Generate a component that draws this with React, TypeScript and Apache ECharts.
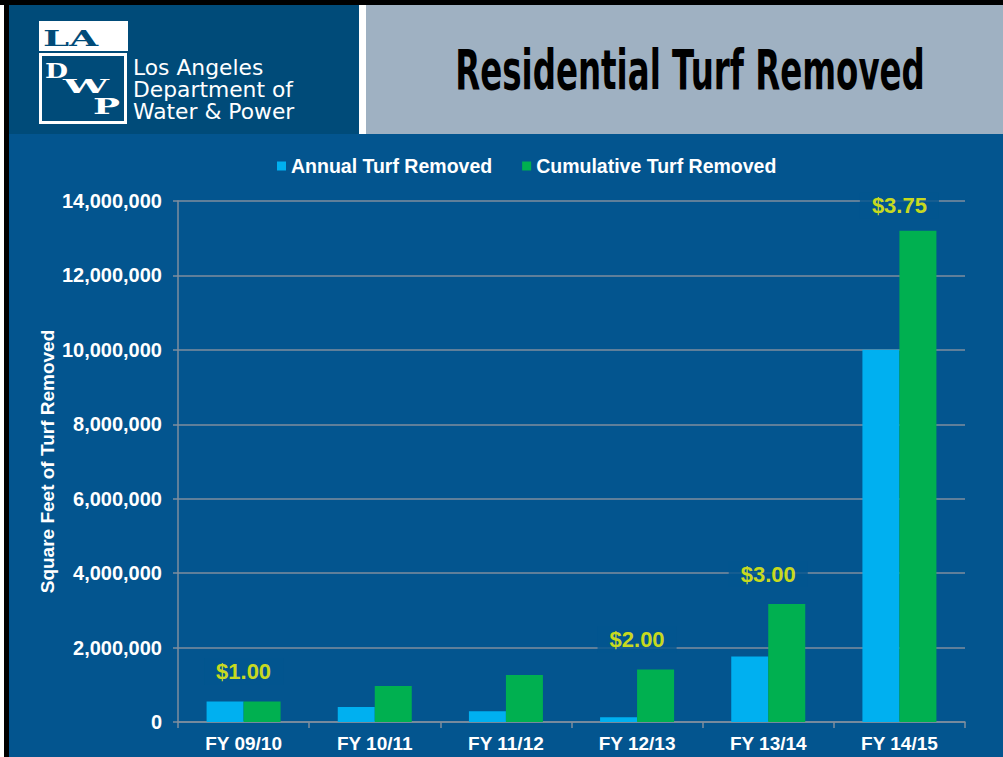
import React, { useEffect, useRef } from "react";
import * as echarts from "echarts";

const categories = ["FY 09/10", "FY 10/11", "FY 11/12", "FY 12/13", "FY 13/14", "FY 14/15"];
const annualTurf = [550000, 400000, 290000, 130000, 1760000, 10000000];
const cumulativeTurf = [550000, 970000, 1260000, 1410000, 3170000, 13200000];
const rebateLabels = ["$1.00", "", "", "$2.00", "$3.00", "$3.75"];
const seriesNames = ["Annual Turf Removed", "Cumulative Turf Removed"];
const chartTitle = "Residential Turf Removed";
const yAxisTitle = "Square Feet of Turf Removed";
const orgLines = ["Los Angeles", "Department of", "Water & Power"];

const BG = "#03558F";
const GRID = "#7F8E9E";

function fitScale(text: string, font: string, width: number): number {
  const ctx = document.createElement("canvas").getContext("2d");
  if (!ctx) return 1;
  ctx.font = font;
  const w = ctx.measureText(text).width;
  return w > 0 ? width / w : 1;
}

export default function App() {
  const ref = useRef<HTMLDivElement>(null);

  useEffect(() => {
    document.body.style.margin = "0";
    if (!ref.current) return;
    const chart = echarts.init(ref.current, null, { renderer: "svg" });

    const titleFont = "bold 56px 'DejaVu Sans'";
    const titleScale = fitScale(chartTitle, titleFont, 470);
    const orgFont = "21px 'DejaVu Sans'";
    const orgScale = fitScale(orgLines[1], orgFont, 160);
    const serif = "'DejaVu Serif'";
    const laScale = fitScale("LA", `bold 23px ${serif}`, 55);
    const dScale = fitScale("D", `bold 20px ${serif}`, 23);
    const wScale = fitScale("W", `bold 18px ${serif}`, 46);
    const pScale = fitScale("P", `bold 23px ${serif}`, 27);

    const labelData = cumulativeTurf.map((v, i) => ({
      value: v,
      label: {
        show: rebateLabels[i] !== "",
        formatter: rebateLabels[i],
        distance: i === 5 ? 12 : 17,
      },
    }));

    const option: any = {
      animation: false,
      backgroundColor: BG,
      textStyle: { fontFamily: "Arial, 'Liberation Sans', sans-serif" },
      legend: {
        data: seriesNames,
        left: 277,
        top: 156,
        padding: 0,
        icon: "rect",
        itemWidth: 9,
        itemHeight: 9,
        itemGap: 30,
        textStyle: { color: "#FFFFFF", fontSize: 19.5, fontWeight: "bold" },
      },
      grid: { left: 178, right: 38, top: 201, bottom: 35, containLabel: false },
      xAxis: {
        type: "category",
        data: categories,
        axisLine: { show: true, lineStyle: { color: GRID, width: 1.5 } },
        axisTick: { show: true, length: 6, lineStyle: { color: GRID, width: 1.5 } },
        axisLabel: { color: "#FFFFFF", fontSize: 19, fontWeight: "bold", margin: 12 },
      },
      yAxis: {
        type: "value",
        min: 0,
        max: 14000000,
        interval: 2000000,
        name: yAxisTitle,
        nameLocation: "middle",
        nameGap: 121,
        nameMoveOverlap: false,
        nameTextStyle: { color: "#FFFFFF", fontSize: 19, fontWeight: "bold" },
        axisLine: { show: true, lineStyle: { color: GRID, width: 1.5 } },
        axisTick: { show: true, length: 5, lineStyle: { color: GRID, width: 1.5 } },
        splitLine: { show: true, lineStyle: { color: GRID, width: 1.5 } },
        axisLabel: {
          color: "#FFFFFF",
          fontSize: 20,
          fontWeight: "bold",
          margin: 16,
          formatter: (v: number) => v.toLocaleString("en-US"),
        },
      },
      series: [
        {
          name: seriesNames[0],
          type: "bar",
          data: annualTurf,
          barWidth: 37,
          barGap: "0%",
          itemStyle: { color: "#00B0F0" },
        },
        {
          name: seriesNames[1],
          type: "bar",
          data: cumulativeTurf,
          barWidth: 37,
          barGap: "0%",
          itemStyle: { color: "#00B050" },
        },
        {
          name: "rebate",
          type: "scatter",
          data: labelData,
          symbolSize: 0,
          silent: true,
          z: 5,
          label: {
            show: true,
            position: "top",
            color: "#FFFF00",
            fontSize: 22,
            fontWeight: "bold",
            backgroundColor: BG,
            padding: [2, 12],
          },
        },
      ],
      graphic: [
        { type: "rect", shape: { x: 0, y: 0, width: 1003, height: 5 }, style: { fill: "#000000" }, silent: true },
        { type: "rect", shape: { x: 0, y: 5, width: 4, height: 752 }, style: { fill: "#FFFFFF" }, silent: true },
        { type: "rect", shape: { x: 4, y: 5, width: 5, height: 752 }, style: { fill: "#000000" }, silent: true },
        { type: "rect", shape: { x: 9, y: 5, width: 350, height: 129 }, style: { fill: "#004B79" }, silent: true },
        { type: "rect", shape: { x: 359, y: 5, width: 7, height: 129 }, style: { fill: "#FFFFFF" }, silent: true },
        { type: "rect", shape: { x: 366, y: 5, width: 637, height: 129 }, style: { fill: "#9FB1C2" }, silent: true },
        {
          type: "text",
          x: 690,
          y: 70,
          scaleX: titleScale,
          silent: true,
          style: {
            text: chartTitle,
            fill: "#000000",
            font: titleFont,
            align: "center",
            verticalAlign: "middle",
          },
        },
        // logo
        { type: "rect", shape: { x: 39, y: 21, width: 89, height: 30 }, style: { fill: "#FFFFFF" }, silent: true },
        {
          type: "rect",
          shape: { x: 40.5, y: 54.5, width: 85, height: 68 },
          style: { fill: "none", stroke: "#FFFFFF", lineWidth: 3 },
          silent: true,
        },
        {
          type: "text", x: 43, y: 37.5, scaleX: laScale, silent: true,
          style: { text: "LA", fill: "#004B79", font: `bold 23px ${serif}`, align: "left", verticalAlign: "middle" },
        },
        {
          type: "text", x: 45, y: 71.5, scaleX: dScale, silent: true,
          style: { text: "D", fill: "#FFFFFF", font: `bold 20px ${serif}`, align: "left", verticalAlign: "middle" },
        },
        {
          type: "text", x: 63, y: 86, scaleX: wScale, silent: true,
          style: { text: "W", fill: "#FFFFFF", font: `bold 18px ${serif}`, align: "left", verticalAlign: "middle" },
        },
        {
          type: "text", x: 93, y: 105.5, scaleX: pScale, silent: true,
          style: { text: "P", fill: "#FFFFFF", font: `bold 23px ${serif}`, align: "left", verticalAlign: "middle" },
        },
        ...orgLines.map((t, i) => ({
          type: "text",
          x: 133,
          y: 68 + i * 22,
          scaleX: orgScale,
          silent: true,
          style: { text: t, fill: "#FFFFFF", font: orgFont, align: "left", verticalAlign: "middle" },
        })),
      ],
    };

    chart.setOption(option);
    return () => chart.dispose();
  }, []);

  return <div ref={ref} style={{ width: 1003, height: 757, position: "absolute", left: 0, top: 0 }} />;
}
